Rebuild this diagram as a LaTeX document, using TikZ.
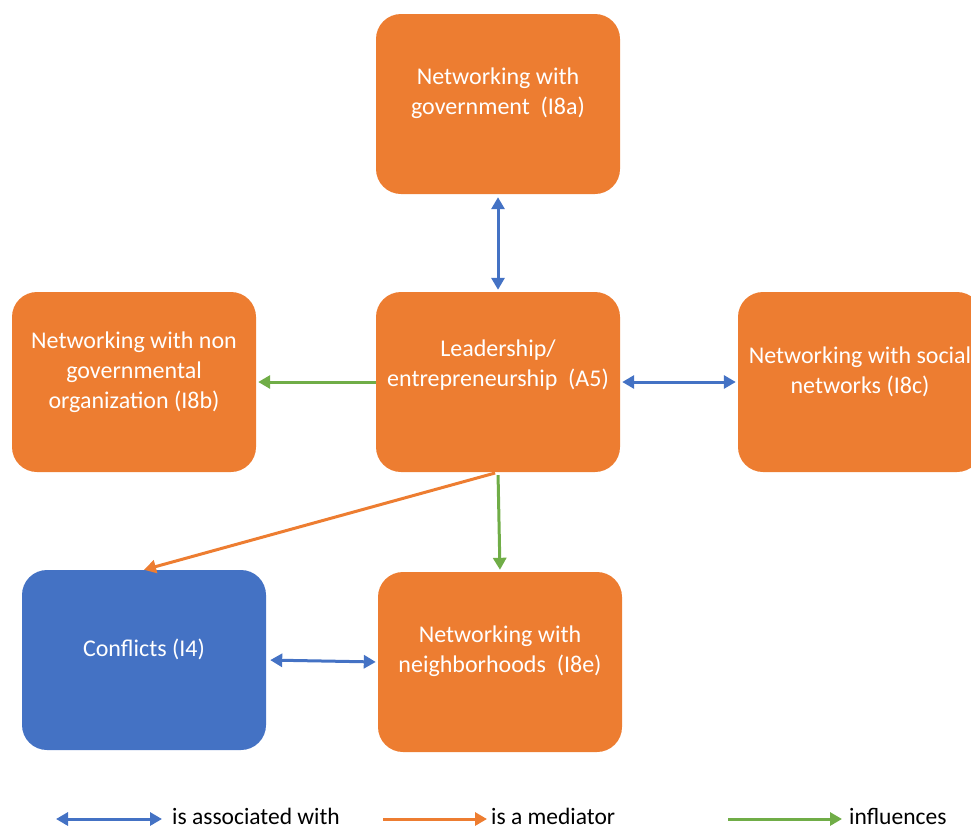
\documentclass[tikz,border=0pt]{standalone}
\usepackage{fontspec}
\setmainfont{Carlito}
\usetikzlibrary{arrows.meta}

\definecolor{boxorange}{HTML}{ED7D31}
\definecolor{boxblue}{HTML}{4472C4}
\definecolor{linkgreen}{HTML}{70AD47}

\tikzset{
  box/.style={draw=none, fill=boxorange, rounded corners=25pt, minimum width=244pt, minimum height=180pt},
  boxtext/.style={text=white, align=center, font=\fontsize{24}{30}\selectfont},
  legendtext/.style={anchor=base west, inner sep=0pt, font=\fontsize{23.5}{26}\selectfont},
  assoc/.style={draw=boxblue, line width=3pt, {Triangle[length=12pt,width=13pt]}-{Triangle[length=12pt,width=13pt]}},
  mediator/.style={draw=boxorange, line width=3pt, -{Triangle[length=12pt,width=13pt]}},
  influence/.style={draw=linkgreen, line width=3pt, -{Triangle[length=12pt,width=13pt]}}
}

\begin{document}
\begin{tikzpicture}[x=1pt,y=-1pt]
\useasboundingbox (0,0) rectangle (971,830);
% boxes
\node[box] (gov) at (498,104) {};
\node[box] (lead) at (498,382) {};
\node[box] (ngo) at (134,382) {};
\node[box] (social) at (860,382) {};
\node[box, fill=boxblue] (confl) at (144,660) {};
\node[box] (neigh) at (500,662) {};
% box texts
\node[boxtext] (gov-t) at ([yshift=11pt]gov.center) {Networking with\\government\ \ (I8a)};
\node[boxtext] (lead-t) at ([yshift=17pt]lead.center) {Leadership/\\entrepreneurship\ \ (A5)};
\node[boxtext] (ngo-t) at ([yshift=10pt]ngo.center) {Networking with non\\governmental\\organization (I8b)};
\node[boxtext] (social-t) at ([yshift=10pt]social.center) {Networking with social\\networks (I8c)};
\node[boxtext] (confl-t) at ([yshift=11pt]confl.center) {Conflicts (I4)};
\node[boxtext] (neigh-t) at ([yshift=11pt]neigh.center) {Networking with\\neighborhoods\ \ (I8e)};
% links
\draw[assoc, shorten <=3pt, shorten >=2pt] (gov.south) -- (lead.north);
\draw[influence, shorten >=2pt] (lead.west) -- (ngo.east);
\draw[assoc, shorten <=2pt, shorten >=2pt] (lead.east) -- (social.west);
\draw[assoc, shorten <=4pt, shorten >=2pt] (confl.east) -- (neigh.west);
\draw[mediator, shorten <=3pt] (lead.south) -- (confl.north);
\draw[influence, shorten <=3pt, shorten >=2pt] (lead.south) -- (neigh.north);
% legend
\coordinate (lg-assoc) at (56,819);
\coordinate (lg-med) at (383,819);
\coordinate (lg-infl) at (728,819);
\node[legendtext] (lg-assoc-t) at (172,824) {is associated with};
\node[legendtext] (lg-med-t) at (491,824) {is a mediator};
\node[legendtext] (lg-infl-t) at (849,824) {influences};
\draw[assoc] (lg-assoc) -- ([xshift=-10pt]lg-assoc-t.west |- lg-assoc);
\draw[mediator] (lg-med) -- ([xshift=-4pt]lg-med-t.west |- lg-med);
\draw[influence] (lg-infl) -- ([xshift=-7pt]lg-infl-t.west |- lg-infl);
\end{tikzpicture}
\end{document}
